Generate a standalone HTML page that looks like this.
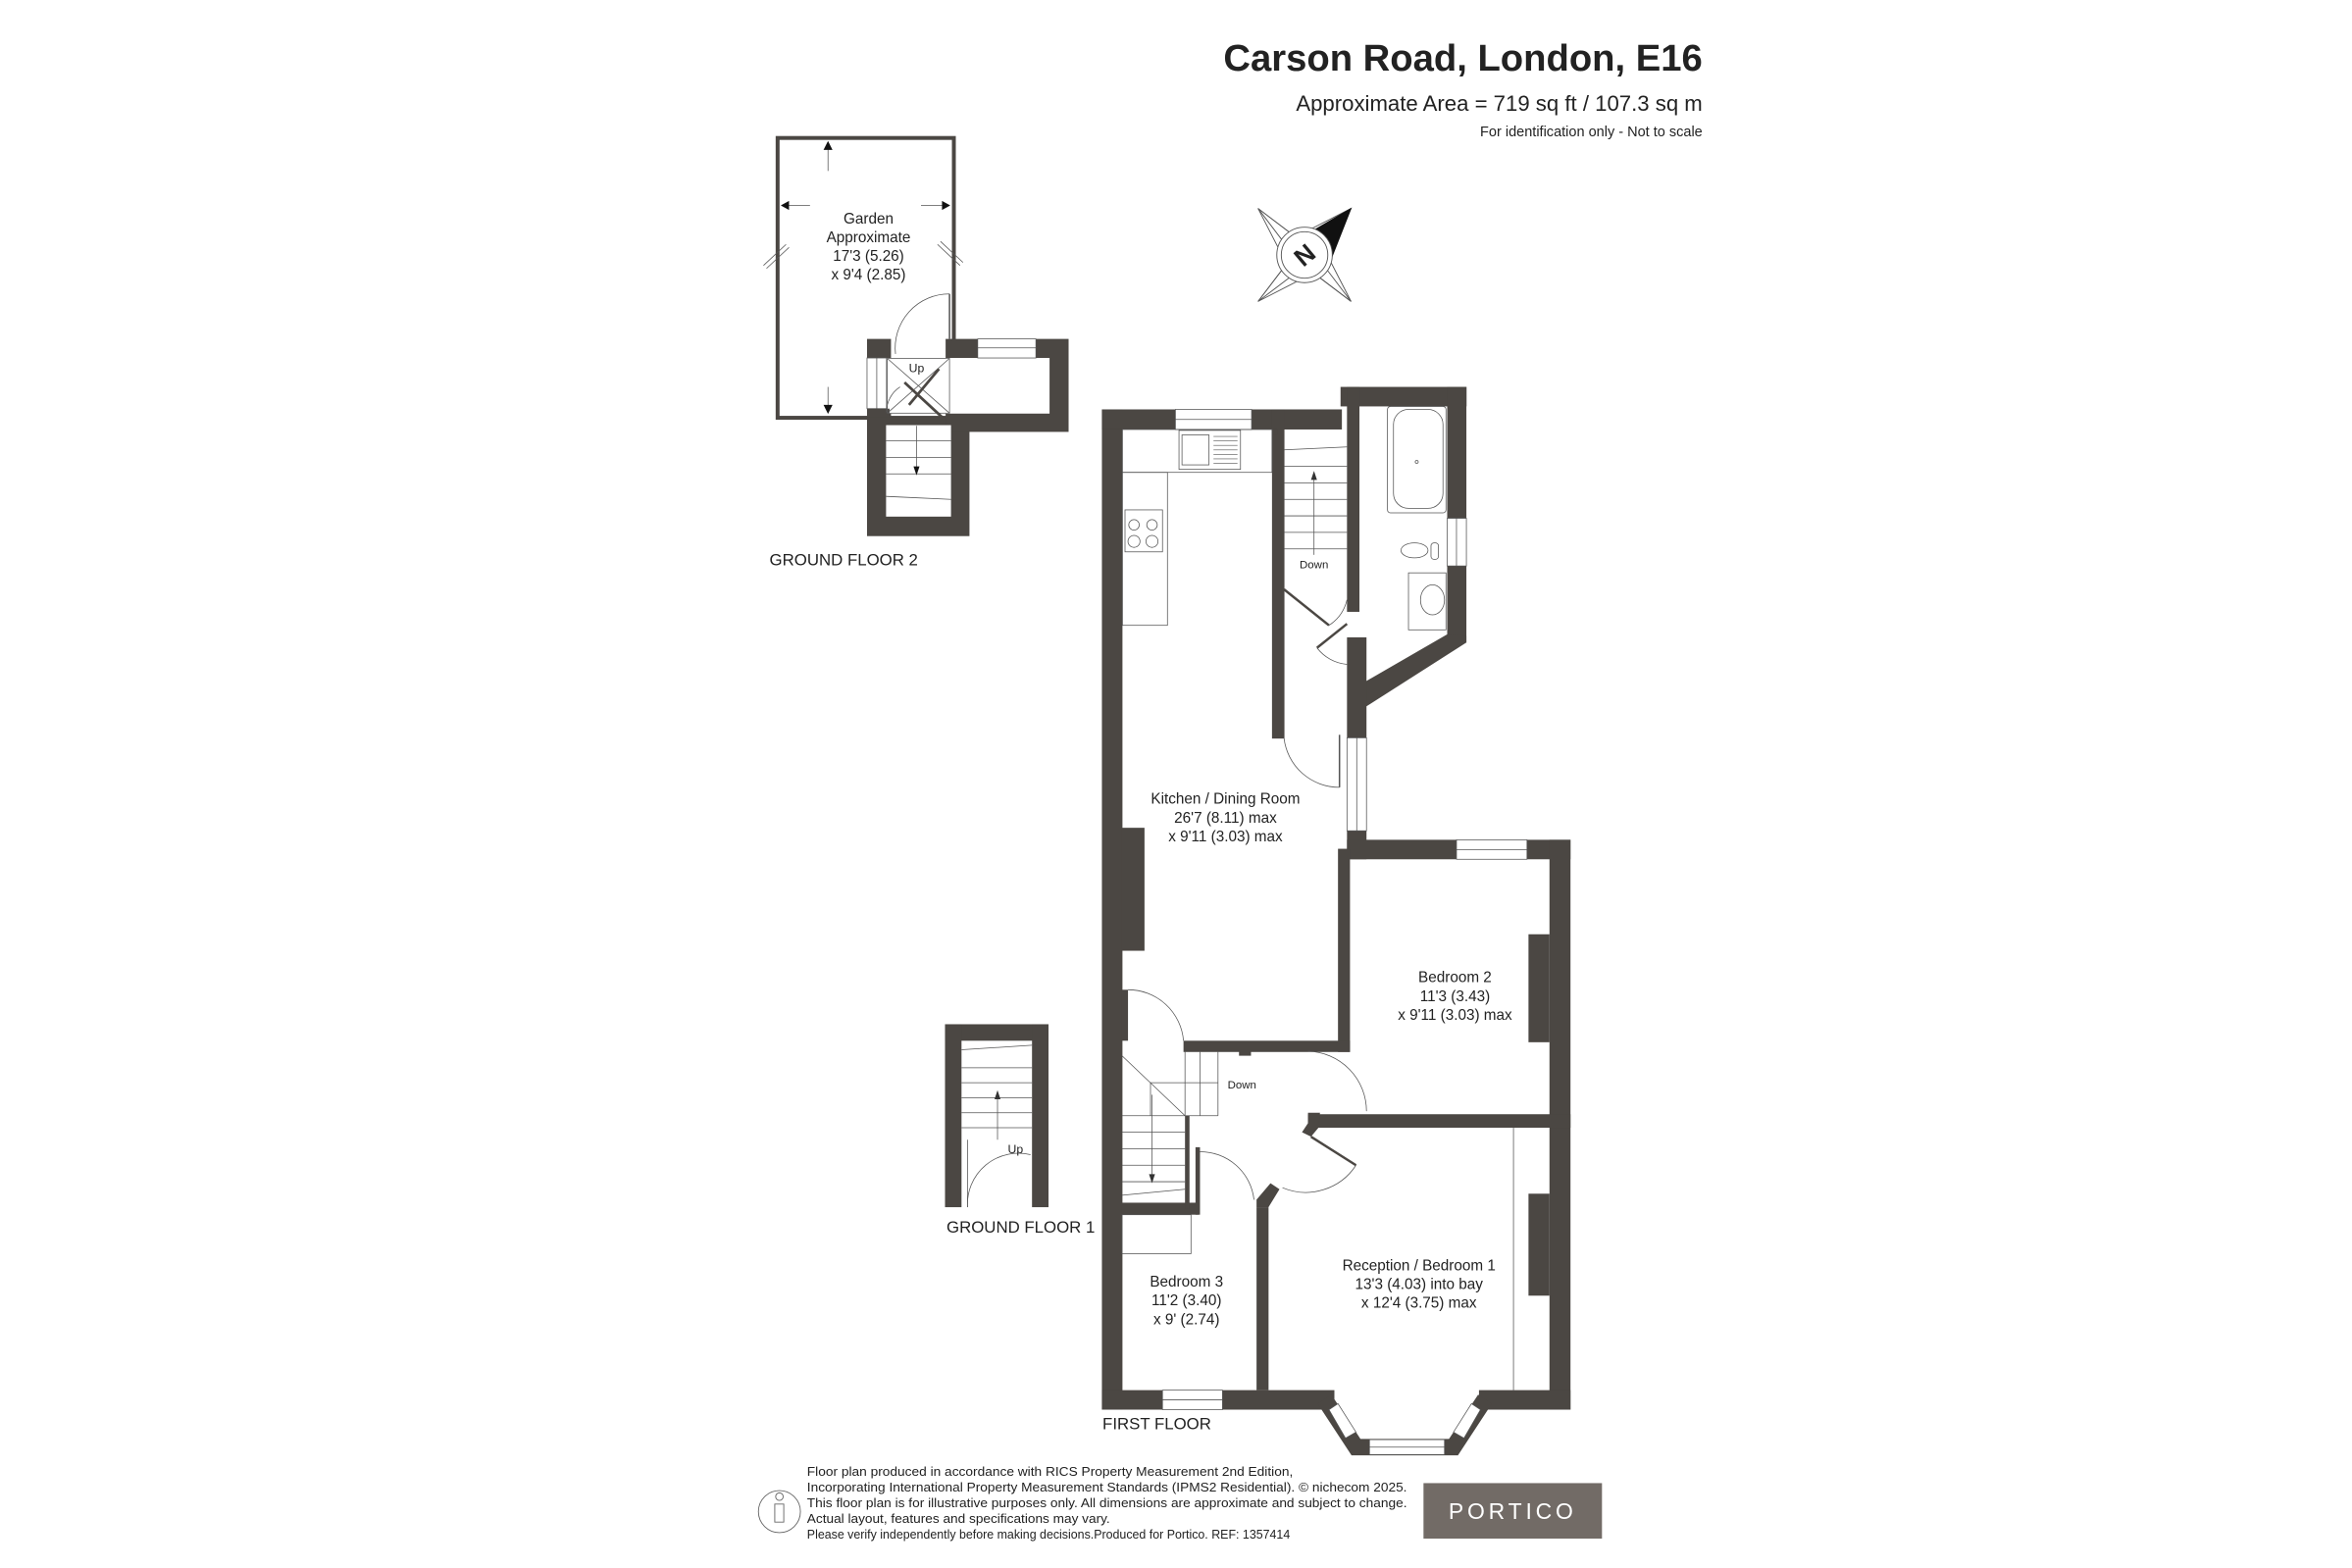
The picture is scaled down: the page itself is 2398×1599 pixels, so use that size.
<!DOCTYPE html>
<html><head><meta charset="utf-8"><style>
html,body{margin:0;padding:0;background:#fff;}
svg{display:block;}
text{font-family:"Liberation Sans",Arial,sans-serif;fill:#222;}
</style></head><body>
<svg width="2398" height="1599" viewBox="0 0 1568 1045.6" xmlns="http://www.w3.org/2000/svg">
<rect x="0" y="0" width="1568" height="1045.6" fill="#fff"/>
<!-- Header -->
<text x="1135" y="47" text-anchor="end" font-size="25" font-weight="bold" fill="#1a1a1a">Carson Road, London, E16</text>
<text x="1135" y="74" text-anchor="end" font-size="14.5">Approximate Area = 719 sq ft / 107.3 sq m</text>
<text x="1135" y="91" text-anchor="end" font-size="9.5">For identification only - Not to scale</text>

<!-- Compass -->
<g transform="translate(869.7,170)" fill="none" stroke="#555" stroke-width="0.6">
<polygon points="-31,-31 -6,-12 31,-31 12,-6 31,31 6,12 -31,31 -12,6" fill="#fff"/>
<line x1="-31" y1="-31" x2="-12" y2="-6"/><line x1="-31" y1="-31" x2="-6" y2="-12"/>
<line x1="31" y1="31" x2="12" y2="6"/><line x1="31" y1="31" x2="6" y2="12"/>
<line x1="-31" y1="31" x2="-12" y2="6"/><line x1="-31" y1="31" x2="-6" y2="12"/>
<polygon points="31,-31 18,2 2,-14" fill="#111" stroke="#111"/>
<circle r="18.5" fill="#fff"/><circle r="15.5"/>
<text x="0" y="6" text-anchor="middle" font-size="17" font-weight="bold" fill="#111" stroke="none" transform="rotate(-40)">N</text>
</g>

<!-- ===== GROUND FLOOR 2 ===== -->
<g fill="#4b4743">
<rect x="518.4" y="92" width="117.5" height="186.6" fill="none" stroke="#4b4743" stroke-width="2.6"/>
<rect x="578" y="278" width="68.3" height="79.5"/>
<rect x="630.4" y="226" width="82" height="62"/>
<rect x="578" y="226" width="16" height="52"/>
</g>
<rect x="590.7" y="283.5" width="43.3" height="61" fill="#fff"/>
<rect x="631" y="238.7" width="68.7" height="37.1" fill="#fff"/>
<rect x="591" y="238.7" width="42" height="37.1" fill="#fff"/>
<rect x="651.8" y="226" width="38.8" height="12.7" fill="#fff" stroke="#555" stroke-width="0.5"/>
<line x1="651.8" y1="232" x2="690.6" y2="232" stroke="#555" stroke-width="0.5"/>
<rect x="578" y="238.7" width="13" height="33.8" fill="#fff" stroke="#555" stroke-width="0.5"/>
<line x1="584.5" y1="238.7" x2="584.5" y2="272.5" stroke="#555" stroke-width="0.5"/>
<rect x="579" y="272.5" width="14" height="6" fill="#4b4743"/>
<g stroke="#555" stroke-width="0.5" fill="none">
<rect x="591.5" y="239" width="41.5" height="36.5"/>
<line x1="591.5" y1="239" x2="633" y2="275.5"/><line x1="633" y1="239" x2="591.5" y2="275.5"/>
<line x1="590.7" y1="294" x2="634" y2="294"/><line x1="590.7" y1="305" x2="634" y2="305"/><line x1="590.7" y1="316" x2="634" y2="316"/><line x1="590.7" y1="331" x2="634" y2="333"/>
<line x1="611" y1="284" x2="611" y2="314"/>
<path d="M597,236 A36,36 0 0 1 633,196"/><line x1="633" y1="196" x2="633" y2="226" stroke-width="1"/>
<path d="M591,275 A20,20 0 0 1 600,258"/>
<line x1="552" y1="97" x2="552" y2="114"/><line x1="552" y1="258" x2="552" y2="274"/>
<line x1="523" y1="137" x2="540" y2="137"/><line x1="614" y1="137" x2="631" y2="137"/>
<line x1="509" y1="177" x2="524" y2="163"/><line x1="511" y1="179" x2="526" y2="165"/>
<line x1="625" y1="163" x2="640" y2="177"/><line x1="627" y1="161" x2="642" y2="175"/>
</g>
<g fill="#111"><polygon points="552,94 549,100 555,100"/><polygon points="552,276 549,270 555,270"/><polygon points="520.5,137 526,134 526,140"/><polygon points="633.5,137 628,134 628,140"/><polygon points="611,317 609,311 613,311"/></g>
<line x1="626" y1="246" x2="606" y2="270" stroke="#4b4743" stroke-width="1.8"/>
<line x1="603" y1="255" x2="630" y2="280" stroke="#4b4743" stroke-width="1.8"/>
<text x="611" y="248" text-anchor="middle" font-size="8">Up</text>
<text x="579" y="149" text-anchor="middle" font-size="10">Garden</text>
<text x="579" y="161.5" text-anchor="middle" font-size="10">Approximate</text>
<text x="579" y="174" text-anchor="middle" font-size="10">17'3 (5.26)</text>
<text x="579" y="186.5" text-anchor="middle" font-size="10">x 9'4 (2.85)</text>
<text x="513" y="377" font-size="11">GROUND FLOOR 2</text>

<!-- ===== GROUND FLOOR 1 ===== -->
<g fill="#4b4743">
<rect x="630" y="683" width="69" height="11"/>
<rect x="630" y="683" width="11" height="122"/>
<rect x="688" y="683" width="11" height="122"/>
</g>
<g stroke="#555" stroke-width="0.5" fill="none">
<line x1="641" y1="700" x2="688" y2="697"/>
<line x1="641" y1="712" x2="688" y2="712"/><line x1="641" y1="722" x2="688" y2="722"/><line x1="641" y1="732" x2="688" y2="732"/><line x1="641" y1="742" x2="688" y2="742"/><line x1="641" y1="752" x2="688" y2="752"/>
<line x1="665" y1="730" x2="665" y2="760"/>
<path d="M645,805 A34,34 0 0 1 687,770"/><line x1="645" y1="760" x2="645" y2="805"/>
</g>
<polygon points="665,727 663,733 667,733" fill="#333"/>
<text x="677" y="769" text-anchor="middle" font-size="8">Up</text>
<text x="631" y="822" font-size="11">GROUND FLOOR 1</text>

<!-- ===== FIRST FLOOR ===== -->
<g fill="#4b4743">
<rect x="734.6" y="273" width="13.7" height="667"/>
<rect x="734.6" y="273" width="160" height="13.4"/>
<rect x="848" y="273" width="8.3" height="219.5"/>
<rect x="893.7" y="258" width="84" height="13"/>
<rect x="898" y="258" width="8.3" height="150"/>
<rect x="964.8" y="258" width="12.8" height="170.5"/>
<polygon points="977.6,424 977.6,428.5 911,471 906,471 906,457 964.8,423"/>
<rect x="898" y="425" width="13" height="67"/>
<rect x="898" y="554" width="13" height="19"/>
<rect x="898" y="560" width="149" height="13"/>
<rect x="892" y="566" width="8" height="135.5"/>
<rect x="1033" y="560" width="14" height="380"/>
<rect x="1019" y="623" width="14" height="72"/>
<rect x="1019" y="796" width="14" height="68"/>
<rect x="748" y="552" width="15" height="82"/>
<rect x="789" y="694" width="111" height="7.5"/>
<rect x="872" y="743" width="175" height="9"/>
<polygon points="872,742 880,742 879,752 874,758 868,755 872,749"/>
<rect x="734.6" y="927" width="155" height="13"/>
<rect x="986" y="927" width="61" height="13"/>
<rect x="837.7" y="805" width="8" height="122"/>
<polygon points="837.7,805 845.7,805 853,793 847,789 837.7,800"/>
<rect x="748" y="802" width="51" height="8"/>
<rect x="797" y="765" width="3" height="45"/>
<rect x="790" y="744" width="3" height="62"/>
<rect x="748" y="660" width="4" height="34"/>
<rect x="826" y="701" width="8" height="3"/>
<rect x="848" y="286" width="4" height="4"/>
</g>
<!-- bay -->
<path d="M883,933 L904,965 L969,965 L990,933" fill="none" stroke="#4b4743" stroke-width="11"/>
<g fill="#fff" stroke="#555" stroke-width="0.5">
<rect x="913" y="960" width="50" height="10"/>
<polygon points="886,940 892,936 904,955 897,959"/>
<polygon points="987,940 981,936 969,955 976,959"/>
</g>
<line x1="913" y1="965" x2="963" y2="965" stroke="#555" stroke-width="0.5"/>
<!-- windows -->
<g fill="#fff" stroke="#555" stroke-width="0.5">
<rect x="783.6" y="273" width="50.8" height="13.4"/>
<rect x="964.8" y="345.6" width="12.8" height="31.8"/>
<rect x="898" y="492" width="13" height="62"/>
<rect x="971" y="560" width="47" height="13"/>
<rect x="775" y="927" width="40" height="13"/>
</g>
<g stroke="#555" stroke-width="0.5" fill="none">
<line x1="783.6" y1="279.7" x2="834.4" y2="279.7"/>
<line x1="971" y1="345.6" x2="971" y2="377.4"/>
<line x1="904.5" y1="492" x2="904.5" y2="554"/>
<line x1="971" y1="566.5" x2="1018" y2="566.5"/>
<line x1="775" y1="933.5" x2="815" y2="933.5"/>
<!-- kitchen fittings -->
<rect x="748.3" y="286.4" width="99.7" height="28.6"/>
<rect x="748.3" y="315" width="30" height="102"/>
<rect x="750" y="340" width="25" height="28"/>
<circle cx="756" cy="350" r="3.5"/><circle cx="768" cy="350" r="3.5"/><circle cx="756" cy="361" r="4"/><circle cx="768" cy="361" r="4"/>
<rect x="786" y="287" width="41" height="26"/>
<rect x="788" y="290" width="18" height="20"/>
<g stroke-width="0.4"><line x1="809" y1="291" x2="825" y2="291"/><line x1="809" y1="294" x2="825" y2="294"/><line x1="809" y1="297" x2="825" y2="297"/><line x1="809" y1="300" x2="825" y2="300"/><line x1="809" y1="303" x2="825" y2="303"/><line x1="809" y1="306" x2="825" y2="306"/><line x1="809" y1="309" x2="825" y2="309"/></g>
<!-- top stair -->
<line x1="856" y1="300" x2="898" y2="298"/>
<line x1="856" y1="311" x2="898" y2="311"/><line x1="856" y1="322" x2="898" y2="322"/><line x1="856" y1="333" x2="898" y2="333"/><line x1="856" y1="344" x2="898" y2="344"/><line x1="856" y1="355" x2="898" y2="355"/><line x1="856" y1="366" x2="898" y2="366"/>
<line x1="876" y1="370" x2="876" y2="318"/>
<!-- bathroom -->
<rect x="925" y="271" width="39" height="71" rx="2"/>
<rect x="929" y="273" width="33" height="66" rx="10"/>
<circle cx="944.5" cy="308" r="1"/>
<ellipse cx="943" cy="367" rx="9" ry="5"/>
<rect x="954" y="362" width="5" height="11" rx="2"/>
<rect x="939" y="382" width="25" height="38"/>
<ellipse cx="955" cy="400" rx="8" ry="10"/>
<!-- doors -->
<path d="M856,492 A37,37 0 0 0 893,525"/><line x1="893" y1="490" x2="893" y2="525" stroke-width="1"/>
<line x1="856" y1="393" x2="886" y2="417" stroke="#4b4743" stroke-width="1.6"/>
<line x1="878" y1="432" x2="898" y2="416" stroke="#4b4743" stroke-width="1.6"/>
<path d="M878,432 A28,28 0 0 0 898,443"/>
<path d="M886,417 A28,28 0 0 0 898,400"/>
<path d="M752,660 A37,37 0 0 1 789,694"/>
<path d="M872,701 A40,40 0 0 1 911,741"/>
<path d="M904,777 A40,40 0 0 1 855,792"/>
<line x1="874" y1="758" x2="904" y2="777" stroke="#4b4743" stroke-width="1.6"/>
<path d="M800,768 A36,36 0 0 1 836,800"/>
<!-- lower stair -->
<line x1="748" y1="704" x2="790" y2="744"/>
<line x1="790" y1="701" x2="790" y2="744"/>
<line x1="800" y1="701" x2="800" y2="744"/><line x1="812" y1="701" x2="812" y2="744"/>
<line x1="767" y1="722" x2="812" y2="722"/><line x1="767" y1="722" x2="767" y2="744"/>
<line x1="748" y1="744" x2="812" y2="744"/>
<line x1="748" y1="755" x2="790" y2="755"/><line x1="748" y1="766" x2="790" y2="766"/><line x1="748" y1="777" x2="790" y2="777"/><line x1="748" y1="788" x2="790" y2="788"/>
<line x1="748" y1="797" x2="790" y2="793"/>
<line x1="768" y1="730" x2="768" y2="784"/>
<rect x="748" y="810" width="46" height="26"/>
<line x1="1009" y1="752" x2="1009" y2="927"/>
</g>
<polygon points="876,314 874,320 878,320" fill="#333"/>
<polygon points="768,789 766,783 770,783" fill="#333"/>
<text x="876" y="379" text-anchor="middle" font-size="7.5">Down</text>
<text x="828" y="726" text-anchor="middle" font-size="7.5">Down</text>
<text x="817" y="536" text-anchor="middle" font-size="10">Kitchen / Dining Room</text>
<text x="817" y="548.5" text-anchor="middle" font-size="10">26'7 (8.11) max</text>
<text x="817" y="561" text-anchor="middle" font-size="10">x 9'11 (3.03) max</text>
<text x="970" y="655" text-anchor="middle" font-size="10">Bedroom 2</text>
<text x="970" y="667.5" text-anchor="middle" font-size="10">11'3 (3.43)</text>
<text x="970" y="680" text-anchor="middle" font-size="10">x 9'11 (3.03) max</text>
<text x="946" y="847" text-anchor="middle" font-size="10">Reception / Bedroom 1</text>
<text x="946" y="859.5" text-anchor="middle" font-size="10">13'3 (4.03) into bay</text>
<text x="946" y="872" text-anchor="middle" font-size="10">x 12'4 (3.75) max</text>
<text x="791" y="858" text-anchor="middle" font-size="10">Bedroom 3</text>
<text x="791" y="870.5" text-anchor="middle" font-size="10">11'2 (3.40)</text>
<text x="791" y="883" text-anchor="middle" font-size="10">x 9' (2.74)</text>
<text x="735" y="953" font-size="11">FIRST FLOOR</text>

<!-- Footer -->
<g fill="none" stroke="#666" stroke-width="0.6">
<circle cx="519.6" cy="1008" r="14"/>
<circle cx="519.6" cy="998" r="2.5"/>
<path d="M516.5,1003 h6 v12 h-6 z"/>
</g>
<g font-size="8.5" fill="#444">
<text x="538" y="984" textLength="324" lengthAdjust="spacingAndGlyphs">Floor plan produced in accordance with RICS Property Measurement 2nd Edition,</text>
<text x="538" y="994.5" textLength="400" lengthAdjust="spacingAndGlyphs">Incorporating International Property Measurement Standards (IPMS2 Residential).   © nichecom 2025.</text>
<text x="538" y="1005" textLength="400" lengthAdjust="spacingAndGlyphs">This floor plan is for illustrative purposes only. All dimensions are approximate and subject to change.</text>
<text x="538" y="1015.5" textLength="202" lengthAdjust="spacingAndGlyphs">Actual layout, features and specifications may vary.</text>
<text x="538" y="1026" textLength="322" lengthAdjust="spacingAndGlyphs">Please verify independently before making decisions.Produced for Portico.   REF:  1357414</text>
</g>
<rect x="949" y="989" width="119" height="37" fill="#726b66"/>
<text x="1008.5" y="1013" text-anchor="middle" font-size="15" letter-spacing="2.5" fill="#fff" style="fill:#fff">PORTICO</text>
</svg>
</body></html>
